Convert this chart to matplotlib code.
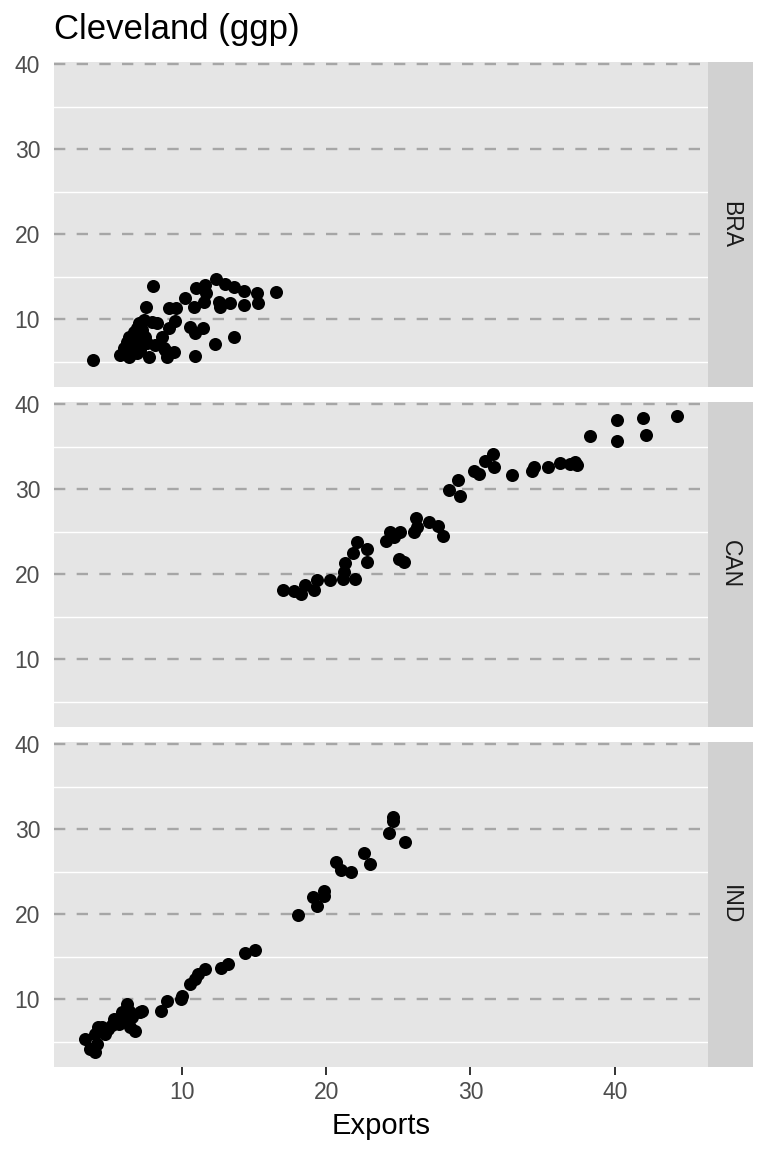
import matplotlib
matplotlib.use("Agg")
import matplotlib.pyplot as plt

plt.rcParams['font.family'] = ['Liberation Sans', 'DejaVu Sans']

# exports (x) vs imports (y)
bra_x = [3.86, 5.72, 6.0, 6.34, 6.41, 6.9, 6.34, 6.69, 7.03, 7.24, 7.03, 7.45, 7.59, 7.52,
         8.0, 8.28, 8.62, 8.14, 7.72, 8.97, 9.45, 8.76, 9.1, 9.59, 9.1, 9.52, 10.2, 10.55,
         10.9, 11.45, 10.9, 10.83, 10.97, 11.59, 11.66, 11.52, 12.28, 12.34, 12.97, 13.59,
         14.28, 15.24, 16.55, 12.55, 12.62, 13.31, 14.34, 15.31, 13.59, 8.83, 6.55, 7.1,
         7.38, 7.93, 6.21, 6.9]
bra_y = [5.18, 5.76, 6.59, 5.53, 5.76, 6.0, 7.88, 8.47, 9.53, 8.7, 7.53, 7.88, 7.18, 11.41,
         13.88, 9.53, 7.88, 6.94, 5.53, 5.53, 6.12, 6.59, 11.29, 11.29, 8.94, 9.76, 12.47, 9.06,
         8.35, 9.0, 5.65, 11.41, 13.65, 14.0, 13.06, 12.0, 7.06, 14.7, 14.12, 13.76,
         13.29, 13.06, 13.18, 12.0, 11.41, 11.88, 11.65, 11.88, 7.88, 6.35, 6.94, 6.35,
         9.88, 9.65, 7.29, 8.94]

can_x = [17.03, 17.79, 18.28, 18.55, 19.17, 19.38, 20.28, 21.17, 21.31, 21.24, 22.0, 21.86,
         22.14, 22.83, 22.83, 24.14, 24.41, 24.69, 25.1, 25.03, 25.38, 26.07, 26.21, 26.28,
         27.1, 27.72, 28.07, 28.48, 29.17, 29.24, 30.21, 30.62, 31.03, 31.59, 31.66, 32.9,
         34.28, 34.41, 35.38, 36.21, 36.9, 37.24, 37.38, 38.28, 40.14, 40.14, 41.93, 42.14,
         44.34]
can_y = [18.12, 18.0, 17.65, 18.71, 18.12, 19.29, 19.29, 19.41, 21.29, 20.24, 19.41, 22.47,
         23.76, 22.94, 21.41, 23.88, 24.94, 24.35, 24.94, 21.76, 21.41, 24.94, 26.59, 25.53,
         26.12, 25.65, 24.47, 29.88, 31.06, 29.18, 32.12, 31.76, 33.29, 34.12, 32.59, 31.65,
         32.12, 32.59, 32.59, 33.06, 32.94, 33.18, 32.82, 36.24, 38.12, 35.65, 38.35, 36.35,
         38.59]

ind_x = [3.31, 3.66, 4.0, 4.14, 4.0, 4.21, 4.48, 4.69, 4.9, 5.17, 5.31, 5.66, 5.86, 5.86,
         6.07, 6.21, 6.34, 6.55, 6.41, 6.76, 7.1, 7.24, 8.55, 8.97, 9.93, 10.0, 10.55, 10.9,
         11.1, 11.59, 12.69, 13.17, 14.41, 15.1, 18.07, 19.1, 19.38, 19.86, 19.86, 20.69,
         21.03, 21.72, 22.62, 23.03, 24.34, 24.62, 24.62, 25.45]
ind_y = [5.29, 4.12, 3.76, 4.71, 5.88, 6.71, 6.71, 5.88, 6.47, 6.94, 7.65, 7.06, 7.65, 8.47,
         7.88, 9.41, 8.59, 7.88, 6.71, 6.24, 8.47, 8.59, 8.59, 9.76, 10.0, 10.35, 11.76, 12.35,
         12.94, 13.53, 13.65, 14.12, 15.41, 15.76, 19.88, 22.0, 20.94, 22.12, 22.71, 26.12,
         25.18, 24.94, 27.18, 25.88, 29.53, 31.41, 30.94, 28.47]

countries = ["BRA", "CAN", "IND"]
xs = [bra_x, can_x, ind_x]
ys = [bra_y, can_y, ind_y]
y_major = [10, 20, 30, 40]
y_minor = [5, 15, 25, 35]
x_ticks = [10, 20, 30, 40]

W, H = 768, 1152
fig = plt.figure(figsize=(W / 100, H / 100), dpi=100)

left, right, strip_w = 54, 708, 45
top0, ph, gap = 62, 325, 15

for i, c in enumerate(countries):
    top = top0 + i * (ph + gap)
    ax = fig.add_axes([left / W, 1 - (top + ph) / H, (right - left) / W, ph / H])
    ax.set_facecolor("#E5E5E5")
    for y in y_minor:
        ax.axhline(y, color="white", lw=1.0, zorder=1)
    for y in y_major:
        ax.axhline(y, color="#A6A6A6", lw=1.7, ls=(0, (4.8, 4.8)), zorder=1)
    ax.scatter(xs[i], ys[i], s=88, color="black", linewidths=0, zorder=3)
    ax.set_xlim(1.14, 46.46)
    ax.set_ylim(2.02, 40.24)
    ax.set_yticks(y_major)
    ax.set_yticklabels([str(v) for v in y_major], fontsize=16.5, color="#4D4D4D")
    ax.tick_params(axis="y", length=0, pad=10)
    ax.set_xticks(x_ticks)
    if i == 2:
        ax.set_xticklabels([str(v) for v in x_ticks], fontsize=16.5, color="#4D4D4D")
        ax.tick_params(axis="x", length=6, width=1.4, color="#333333", pad=4)
        ax.set_xlabel("Exports", fontsize=21, labelpad=6)
    else:
        ax.tick_params(axis="x", length=0, labelbottom=False)
    for s in ax.spines.values():
        s.set_visible(False)

    sax = fig.add_axes([right / W, 1 - (top + ph) / H, strip_w / W, ph / H])
    sax.set_facecolor("#D1D1D1")
    sax.set_xticks([])
    sax.set_yticks([])
    for s in sax.spines.values():
        s.set_visible(False)
    sax.text(0.5, 0.5, c, rotation=270, ha="center", va="center",
             fontsize=16.5, color="#1A1A1A", transform=sax.transAxes)

fig.text(left / W, 1 - 30 / H, "Cleveland (ggp)", fontsize=25, ha="left", va="center")

fig.savefig("out.png", dpi=100)
